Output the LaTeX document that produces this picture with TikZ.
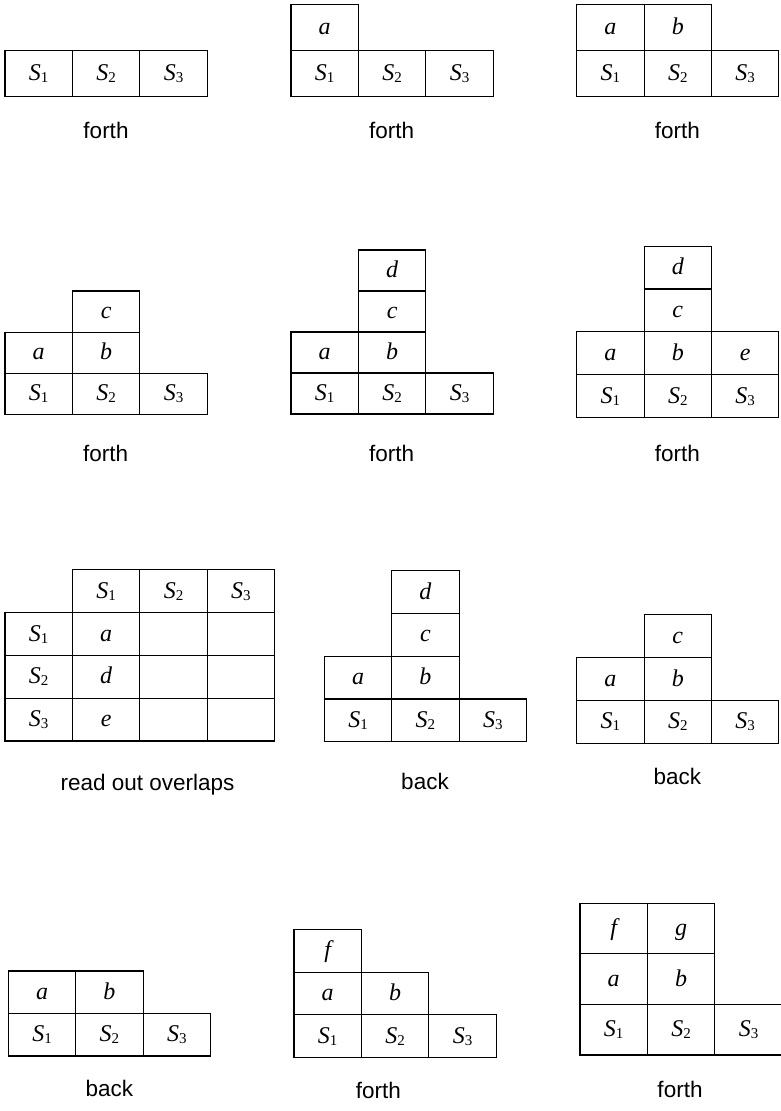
\documentclass[tikz,border=0pt]{standalone}
\usepackage{fontspec}
\newfontfamily\cellfont{Liberation Serif}
\newfontfamily\labelfont{Liberation Sans}
\usetikzlibrary{positioning}
\newcommand{\seqS}[1]{S\raisebox{-2pt}{\upshape\fontsize{15}{15}\selectfont #1}}

\begin{document}
\begin{tikzpicture}[
		x=1pt, y=-1pt,
		node distance=0pt,
		cell/.style={
			draw,
			line width=1.1pt,
			minimum width=67.4pt,
			minimum height=#1,
			inner sep=0pt,
			outer sep=0pt,
			text height=18pt,
			text depth=4pt,
			font=\cellfont\fontsize{24}{28}\selectfont\itshape
		},
		cell/.default=42.8pt,
		steplabel/.style={
			anchor=base,
			font=\labelfont\fontsize{22.5}{27}\selectfont
		}
	]
		\useasboundingbox (0,0) rectangle (780,1111);

		% row 1
		\node[cell=45.6pt, anchor=south west] (p1s1) at (5,96.3) {\seqS1};
		\node[cell=45.6pt, right=of p1s1] (p1s2) {\seqS2};
		\node[cell=45.6pt, right=of p1s2] (p1s3) {\seqS3};
		\node[steplabel] (p1lbl) at (106,138) {forth};

		\node[cell=46pt, anchor=south west] (p2s1) at (291,96.3) {\seqS1};
		\node[cell=46pt, right=of p2s1] (p2s2) {\seqS2};
		\node[cell=46pt, right=of p2s2] (p2s3) {\seqS3};
		\node[cell=46pt, above=of p2s1] (p2a) {a};
		\node[steplabel] (p2lbl) at (391.7,138) {forth};

		\node[cell=46pt, anchor=south west] (p3s1) at (576.7,96.3) {\seqS1};
		\node[cell=46pt, right=of p3s1] (p3s2) {\seqS2};
		\node[cell=46pt, right=of p3s2] (p3s3) {\seqS3};
		\node[cell=46pt, above=of p3s1] (p3a) {a};
		\node[cell=46pt, above=of p3s2] (p3b) {b};
		\node[steplabel] (p3lbl) at (677.3,138) {forth};

		% row 2
		\node[cell=41.1pt, anchor=south west] (p4s1) at (5,414.3) {\seqS1};
		\node[cell=41.1pt, right=of p4s1] (p4s2) {\seqS2};
		\node[cell=41.1pt, right=of p4s2] (p4s3) {\seqS3};
		\node[cell=41.1pt, above=of p4s1] (p4a) {a};
		\node[cell=41.1pt, above=of p4s2] (p4b) {b};
		\node[cell=41.1pt, above=of p4b] (p4c) {c};
		\node[steplabel] (p4lbl) at (105.7,461) {forth};

		\node[cell=41pt, anchor=south west] (p5s1) at (291,414) {\seqS1};
		\node[cell=41pt, right=of p5s1] (p5s2) {\seqS2};
		\node[cell=41pt, right=of p5s2] (p5s3) {\seqS3};
		\node[cell=41pt, above=of p5s1] (p5a) {a};
		\node[cell=41pt, above=of p5s2] (p5b) {b};
		\node[cell=41pt, above=of p5b] (p5c) {c};
		\node[cell=41pt, above=of p5c] (p5d) {d};
		\node[steplabel] (p5lbl) at (391.7,461) {forth};

		\node[cell=42.9pt, anchor=south west] (p6s1) at (576.7,417.7) {\seqS1};
		\node[cell=42.9pt, right=of p6s1] (p6s2) {\seqS2};
		\node[cell=42.9pt, right=of p6s2] (p6s3) {\seqS3};
		\node[cell=42.9pt, above=of p6s1] (p6a) {a};
		\node[cell=42.9pt, above=of p6s2] (p6b) {b};
		\node[cell=42.9pt, above=of p6s3] (p6e) {e};
		\node[cell=42.9pt, above=of p6b] (p6c) {c};
		\node[cell=42.9pt, above=of p6c] (p6d) {d};
		\node[steplabel] (p6lbl) at (677.3,461) {forth};

		% row 3: overlap table
		\node[cell, anchor=south west] (p7r3c1) at (5,741) {\seqS3};
		\node[cell, above=of p7r3c1] (p7r2c1) {\seqS2};
		\node[cell, above=of p7r2c1] (p7r1c1) {\seqS1};
		\node[cell, right=of p7r1c1] (p7r1c2) {a};
		\node[cell, right=of p7r2c1] (p7r2c2) {d};
		\node[cell, right=of p7r3c1] (p7r3c2) {e};
		\foreach \r in {1,2,3} {
			\node[cell, right=of p7r\r c2] (p7r\r c3) {};
			\node[cell, right=of p7r\r c3] (p7r\r c4) {};
		}
		\node[cell, above=of p7r1c2] (p7h2) {\seqS1};
		\node[cell, above=of p7r1c3] (p7h3) {\seqS2};
		\node[cell, above=of p7r1c4] (p7h4) {\seqS3};
		\node[steplabel] (p7lbl) at (147.5,790) {read out overlaps};

		\node[cell=42.7pt, anchor=south west] (p8s1) at (324.3,741.7) {\seqS1};
		\node[cell=42.7pt, right=of p8s1] (p8s2) {\seqS2};
		\node[cell=42.7pt, right=of p8s2] (p8s3) {\seqS3};
		\node[cell=42.7pt, above=of p8s1] (p8a) {a};
		\node[cell=42.7pt, above=of p8s2] (p8b) {b};
		\node[cell=42.7pt, above=of p8b] (p8c) {c};
		\node[cell=42.7pt, above=of p8c] (p8d) {d};
		\node[steplabel] (p8lbl) at (425,789.3) {back};

		\node[cell, anchor=south west] (p9s1) at (576.7,743.3) {\seqS1};
		\node[cell, right=of p9s1] (p9s2) {\seqS2};
		\node[cell, right=of p9s2] (p9s3) {\seqS3};
		\node[cell, above=of p9s1] (p9a) {a};
		\node[cell, above=of p9s2] (p9b) {b};
		\node[cell, above=of p9b] (p9c) {c};
		\node[steplabel] (p9lbl) at (677.3,784.3) {back};

		% row 4
		\node[cell=42.5pt, anchor=south west] (p10s1) at (8.3,1056) {\seqS1};
		\node[cell=42.5pt, right=of p10s1] (p10s2) {\seqS2};
		\node[cell=42.5pt, right=of p10s2] (p10s3) {\seqS3};
		\node[cell=42.5pt, above=of p10s1] (p10a) {a};
		\node[cell=42.5pt, above=of p10s2] (p10b) {b};
		\node[steplabel] (p10lbl) at (109.3,1096.7) {back};

		\node[cell, anchor=south west] (p11s1) at (294,1057.7) {\seqS1};
		\node[cell, right=of p11s1] (p11s2) {\seqS2};
		\node[cell, right=of p11s2] (p11s3) {\seqS3};
		\node[cell, above=of p11s1] (p11a) {a};
		\node[cell, above=of p11s2] (p11b) {b};
		\node[cell, above=of p11a] (p11f) {f};
		\node[steplabel] (p11lbl) at (378.3,1098.3) {forth};

		\node[cell=50.6pt, anchor=south west] (p12s1) at (580,1055) {\seqS1};
		\node[cell=50.6pt, right=of p12s1] (p12s2) {\seqS2};
		\node[cell=50.6pt, right=of p12s2] (p12s3) {\seqS3};
		\node[cell=50.6pt, above=of p12s1] (p12a) {a};
		\node[cell=50.6pt, above=of p12s2] (p12b) {b};
		\node[cell=50.6pt, above=of p12a] (p12f) {f};
		\node[cell=50.6pt, above=of p12b] (p12g) {g};
		\node[steplabel] (p12lbl) at (680,1097.3) {forth};
	\end{tikzpicture}
\end{document}
